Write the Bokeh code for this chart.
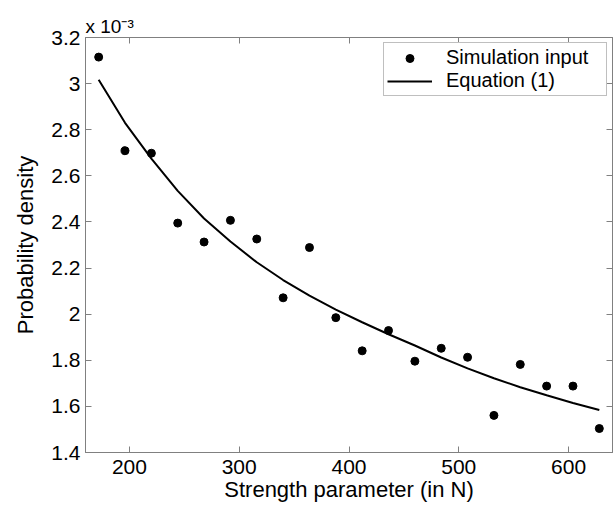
from bokeh.plotting import figure
from bokeh.models import (Range1d, LinearAxis, Legend, LegendItem,
                          CustomJSTickFormatter, FixedTicker, CustomLabelingPolicy)
from bokeh.embed import file_html
from bokeh.resources import INLINE

# ---- data (density values in units of 1e-3) ----
strength = [172, 196, 220, 244, 268, 292, 316, 340, 364, 388,
            412, 436, 460, 484, 508, 532, 556, 580, 604, 628]
sim_density_e3 = [3.115, 2.709, 2.698, 2.395, 2.313, 2.407, 2.326, 2.071, 2.289, 1.985,
                  1.841, 1.929, 1.796, 1.852, 1.813, 1.561, 1.782, 1.688, 1.688, 1.504]
eq_density_e3 = [3.017, 2.830, 2.675, 2.535, 2.415, 2.315, 2.225, 2.148, 2.080, 2.020,
                 1.965, 1.913, 1.864, 1.812, 1.765, 1.722, 1.683, 1.648, 1.615, 1.584]
x_ticks = [200, 300, 400, 500, 600]
y_ticks = [1.4, 1.6, 1.8, 2.0, 2.2, 2.4, 2.6, 2.8, 3.0, 3.2]
exponent_label = "x 10\u207b\u00b3"

FONT = "Liberation Sans"
GRAY = "#808080"

p = figure(frame_width=527, frame_height=415, output_backend="svg", toolbar_location=None,
           x_range=Range1d(160, 640), y_range=Range1d(1.4, 3.2),
           min_border_left=85, min_border_right=2, min_border_top=37, min_border_bottom=56)
p.background_fill_color = "white"
p.border_fill_color = "white"
p.outline_line_color = GRAY
p.xgrid.visible = False
p.ygrid.visible = False

# the "x 10^-3" multiplier above the top-left corner of the frame
p.title.text = exponent_label
p.title.align = "left"
p.title.offset = 0
p.title.standoff = 2
p.title.text_font = FONT
p.title.text_font_size = "19px"
p.title.text_font_style = "normal"
p.title.text_color = "black"

fmt = CustomJSTickFormatter(code="return (Math.round(tick*10)/10).toString();")
no_labels = CustomLabelingPolicy(code="return [];")

def style_axis(ax, labels=True):
    ax.axis_line_color = GRAY
    ax.major_tick_line_color = GRAY
    ax.minor_tick_line_color = None
    ax.major_tick_in = 6
    ax.major_tick_out = 0
    if labels:
        ax.major_label_text_font = FONT
        ax.major_label_text_font_size = "21px"
        ax.major_label_text_color = "black"
        ax.axis_label_text_font = FONT
        ax.axis_label_text_font_style = "normal"
        ax.axis_label_text_color = "black"
        ax.axis_label_text_font_size = "22px"
    else:
        ax.major_label_text_font_size = "0px"
        ax.major_label_standoff = 0
        ax.major_label_policy = no_labels

xa = p.xaxis[0]
xa.ticker = FixedTicker(ticks=x_ticks)
xa.axis_label = "Strength parameter (in N)"
style_axis(xa)
xa.major_label_standoff = 7
xa.axis_label_standoff = 0

ya = p.yaxis[0]
ya.ticker = FixedTicker(ticks=y_ticks)
ya.formatter = fmt
ya.axis_label = "Probability density"
style_axis(ya)
ya.major_label_standoff = 5
ya.axis_label_standoff = 10

top = LinearAxis(ticker=FixedTicker(ticks=x_ticks))
style_axis(top, labels=False)
p.add_layout(top, "above")

right = LinearAxis(ticker=FixedTicker(ticks=y_ticks))
style_axis(right, labels=False)
p.add_layout(right, "right")

r_sim = p.scatter(strength, sim_density_e3, size=8, color="black")
r_eq = p.line(strength, eq_density_e3, line_width=2, color="black")

legend = Legend(items=[LegendItem(label="Simulation input", renderers=[r_sim]),
                       LegendItem(label="Equation (1)", renderers=[r_eq])],
                location="top_right")
legend.label_text_font = FONT
legend.label_text_font_size = "20px"
legend.label_text_color = "black"
legend.border_line_color = GRAY
legend.background_fill_alpha = 1
legend.glyph_width = 45
legend.label_standoff = 14
legend.label_width = 157
legend.padding = 3
legend.spacing = 0
legend.margin = 5
p.add_layout(legend)

open("out.html", "w").write(file_html(p, INLINE))
